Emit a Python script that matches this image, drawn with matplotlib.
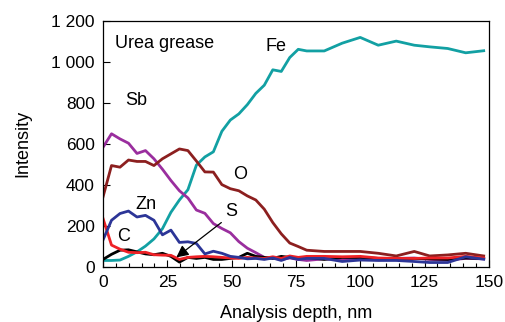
import matplotlib
matplotlib.use("Agg")
import matplotlib.pyplot as plt
from matplotlib.ticker import FuncFormatter, MultipleLocator

plt.rcParams['font.family'] = ['Liberation Sans', 'DejaVu Sans']

# depth grid (nm), shared by all elements
depth = [0, 3.3, 6.6, 9.9, 13.2, 16.5, 19.8, 23.1, 26.4, 29.7, 33, 36.3, 39.6,
         42.9, 46.2, 49.5, 52.8, 56.1, 59.4, 62.7, 66, 69.3, 72.6, 75.9, 79.2,
         86, 93, 100, 107, 114, 121, 127, 134, 141, 148]

fe = [30, 30, 32, 50, 72, 100, 135, 185, 265, 325, 375, 495, 535,
      560, 660, 715, 745, 790, 845, 885, 960, 952, 1020, 1060, 1052,
      1052, 1090, 1118, 1080, 1100, 1080, 1072, 1064, 1043, 1053]
sb = [582, 648, 623, 602, 552, 566, 526, 475, 420, 370, 335, 276, 260,
      210, 186, 165, 122, 90, 68, 45, 42, 35, 42, 35, 30,
      38, 35, 38, 33, 40, 42, 35, 32, 40, 38]
o = [340, 493, 485, 520, 513, 513, 493, 526, 550, 574, 566, 515, 462,
     461, 400, 380, 370, 345, 325, 280, 215, 160, 115, 98, 80,
     74, 74, 74, 65, 52, 74, 52, 57, 65, 52]
zn = [130, 226, 259, 271, 242, 250, 226, 155, 178, 118, 121, 113, 62,
      75, 65, 50, 45, 38, 40, 35, 42, 30, 45, 35, 40,
      40, 25, 32, 30, 30, 25, 20, 20, 48, 36]
s = [35, 60, 80, 82, 72, 62, 58, 65, 50, 22, 45, 40, 45,
     35, 35, 40, 45, 65, 50, 45, 40, 50, 45, 40, 45,
     35, 45, 45, 40, 35, 40, 38, 35, 42, 40]
c = [235, 105, 85, 70, 68, 70, 58, 56, 55, 35, 45, 48, 50,
     48, 45, 42, 40, 45, 42, 40, 48, 40, 52, 45, 50,
     50, 48, 50, 42, 40, 40, 42, 42, 50, 42]

fig = plt.figure(figsize=(5.05, 3.22), dpi=100)
ax = fig.add_axes([0.204, 0.172, 0.764, 0.764])

lw = 2.0
ax.plot(depth, fe, color='#12a0a3', lw=lw)
ax.plot(depth, sb, color='#9a2e9e', lw=lw)
ax.plot(depth, o, color='#8c1f1f', lw=lw)
ax.plot(depth, s, color='black', lw=lw)
ax.plot(depth, c, color='#ee2126', lw=lw)
ax.plot(depth, zn, color='#2c3597', lw=lw)

ax.set_xlim(0, 150)
ax.set_ylim(0, 1200)
ax.xaxis.set_major_locator(MultipleLocator(25))
ax.xaxis.set_minor_locator(MultipleLocator(5))
ax.yaxis.set_major_locator(MultipleLocator(200))
ax.yaxis.set_major_formatter(FuncFormatter(lambda v, p: f"{int(v):,}".replace(",", " ")))
ax.tick_params(axis='both', which='major', direction='in', length=5, width=0.8,
               labelsize=12.5, pad=6)
ax.tick_params(axis='x', which='minor', direction='in', length=3, width=0.8)
for sp in ax.spines.values():
    sp.set_linewidth(0.9)

ax.set_xlabel('Analysis depth, nm', fontsize=13, labelpad=11)
ax.set_ylabel('Intensity', fontsize=13, labelpad=14)

ax.text(4.6, 1088, 'Urea grease', fontsize=13, va='center')
ax.text(63, 1072, 'Fe', fontsize=13, va='center')
ax.text(8.5, 808, 'Sb', fontsize=13, va='center')
ax.text(50.5, 450, 'O', fontsize=13, va='center')
ax.text(12.5, 305, 'Zn', fontsize=13, va='center')
ax.text(47.5, 267, 'S', fontsize=13, va='center')
ax.text(5.5, 145, 'C', fontsize=13, va='center')
ax.annotate('', xy=(28.5, 45), xytext=(46, 215),
            arrowprops=dict(arrowstyle='-|>', color='black', lw=0.9,
                            mutation_scale=18, shrinkA=0, shrinkB=0))

fig.savefig('out.png', dpi=100)
